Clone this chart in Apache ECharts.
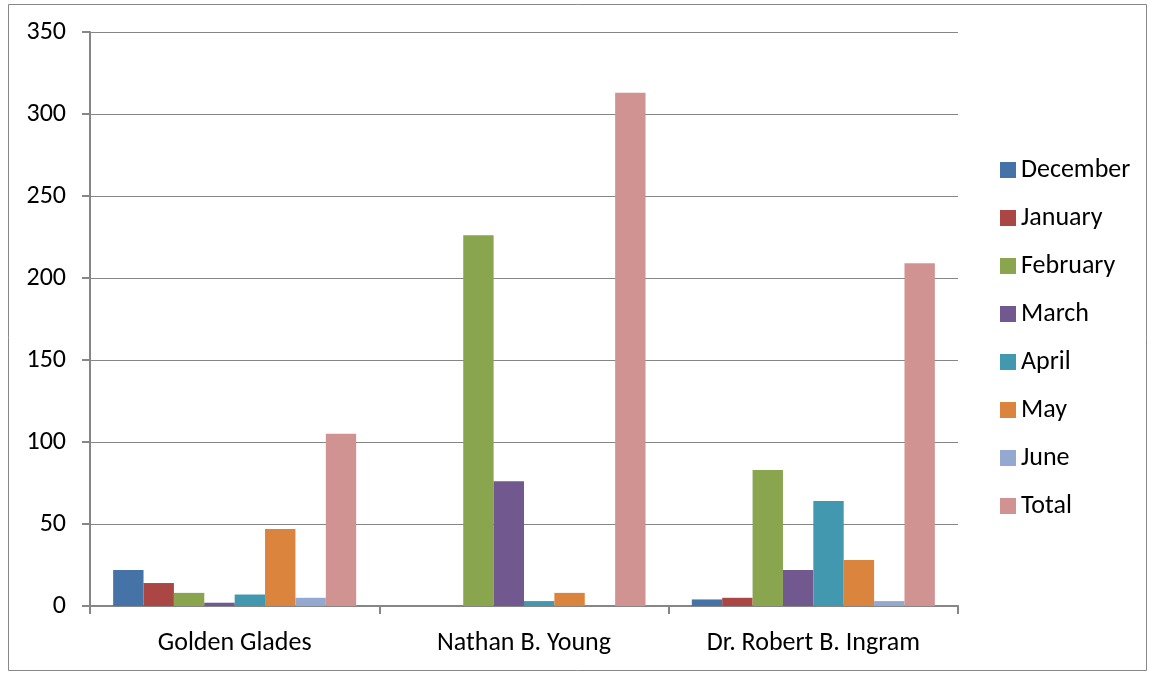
<!DOCTYPE html>
<html>
<head>
<meta charset="utf-8">
<script src="https://cdn.jsdelivr.net/npm/echarts@6/dist/echarts.min.js"></script>
<style>
  html, body { margin: 0; padding: 0; background: #fff; }
  #chart { width: 1150px; height: 674px; }
</style>
</head>
<body>
<div id="chart"></div>
<script>
var schools = ['Golden Glades', 'Nathan B. Young', 'Dr. Robert B. Ingram'];
var months = ['December', 'January', 'February', 'March', 'April', 'May', 'June', 'Total'];
var december = [22, 0, 4];
var january = [14, 0, 5];
var february = [8, 226, 83];
var march = [2, 76, 22];
var april = [7, 3, 64];
var may = [47, 8, 28];
var june = [5, 0, 3];
var total = [105, 313, 209];
var yTicks = [0, 50, 100, 150, 200, 250, 300, 350];

var colors = ['#4572A7', '#AA4643', '#89A54E', '#71588F', '#4198AF', '#DB843D', '#93A9CF', '#D19392'];
var values = [december, january, february, march, april, may, june, total];

var chart = echarts.init(document.getElementById('chart'));

var series = [];
for (var k = 0; k < months.length; k++) {
    series.push({
        name: months[k],
        type: 'bar',
        data: values[k],
        barGap: '0%',
        barCategoryGap: '16%',
        itemStyle: { color: colors[k] }
    });
}

var font = 'Carlito, Lato, "Open Sans", sans-serif';

var option = {
    animation: false,
    color: colors,
    textStyle: { fontFamily: font },
    grid: { left: 90, right: 192, top: 32, bottom: 68 },
    // outer chart border
    graphic: [{
        type: 'rect',
        shape: { x: 8.5, y: 4.5, width: 1138, height: 666 },
        style: { fill: 'none', stroke: '#888', lineWidth: 1 },
        silent: true
    }],
    legend: {
        orient: 'vertical',
        left: 1000,
        top: 157,
        padding: 0,
        itemWidth: 16,
        itemHeight: 16,
        itemGap: 22,
        icon: 'rect',
        data: months,
        textStyle: { fontSize: 26, color: '#000', fontFamily: font }
    },
    xAxis: {
        type: 'category',
        data: schools,
        axisLine: { lineStyle: { color: '#868686', width: 2 } },
        axisTick: { show: true, length: 8, alignWithLabel: false, lineStyle: { color: '#868686', width: 2 } },
        axisLabel: { fontSize: 26, color: '#000', margin: 24, fontFamily: font }
    },
    yAxis: {
        type: 'value',
        min: 0,
        max: 350,
        interval: 50,
        axisLine: { show: true, lineStyle: { color: '#868686', width: 2 } },
        axisTick: { show: true, length: 8, lineStyle: { color: '#868686', width: 2 } },
        axisLabel: {
            fontSize: 26, color: '#000', margin: 24, fontFamily: font,
            formatter: function (v) { return yTicks.indexOf(v) >= 0 ? String(v) : ''; }
        },
        splitLine: { lineStyle: { color: '#868686', width: 1 } }
    },
    series: series
};

chart.setOption(option);
</script>
</body>
</html>
